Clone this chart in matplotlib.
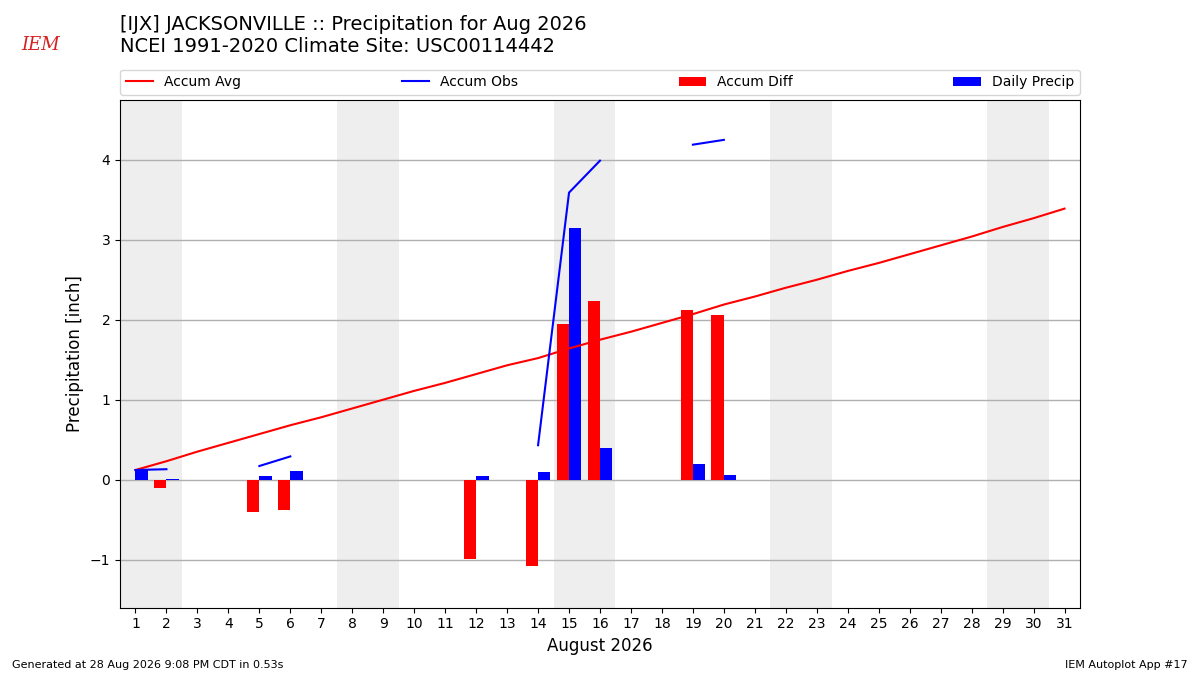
import numpy as np
import matplotlib
matplotlib.use("Agg")
import matplotlib.pyplot as plt

days = list(range(1, 32))
accum_avg = [0.12, 0.23, 0.35, 0.46, 0.57, 0.68, 0.78, 0.89, 1.00, 1.11,
             1.21, 1.32, 1.43, 1.52, 1.64, 1.75, 1.85, 1.96, 2.07, 2.19,
             2.29, 2.40, 2.50, 2.61, 2.71, 2.82, 2.93, 3.04, 3.16, 3.27, 3.39]
nan = float("nan")
accum_obs = [0.12, 0.13, nan, nan, 0.17, 0.29, nan, nan, nan, nan,
             nan, 0.34, nan, 0.43, 3.59, 3.99, nan, nan, 4.19, 4.25,
             nan, nan, nan, nan, nan, nan, nan, nan, nan, nan, nan]
accum_diff = [-0.01, -0.11, nan, nan, -0.40, -0.38, nan, nan, nan, nan,
              nan, -0.99, nan, -1.08, 1.95, 2.24, nan, nan, 2.12, 2.06,
              nan, nan, nan, nan, nan, nan, nan, nan, nan, nan, nan]
daily_precip = [0.12, 0.01, 0, 0, 0.05, 0.11, 0, 0, 0, 0,
                0, 0.05, 0, 0.10, 3.15, 0.40, 0, 0, 0.20, 0.06,
                0, 0, 0, 0, 0, 0, 0, 0, 0, 0, 0]
weekends = [(1, 2), (8, 9), (15, 16), (22, 23), (29, 30)]
yticks = [-1, 0, 1, 2, 3, 4]

title = "[IJX] JACKSONVILLE :: Precipitation for Aug 2026\nNCEI 1991-2020 Climate Site: USC00114442"

fig = plt.figure(figsize=(12, 6.75), dpi=100)
ax = fig.add_axes([0.1, 0.1, 0.8, 0.752])

x = np.array(days, dtype=float)
for a, b in weekends:
    ax.axvspan(a - 0.5, b + 0.5, color="#EEEEEE", zorder=0, lw=0)

ax.bar(x, accum_diff, width=-0.4, align="edge", color="red", zorder=3, label="Accum Diff")
ax.bar(x, daily_precip, width=0.4, align="edge", color="blue", zorder=3, label="Daily Precip")
ax.plot(x, accum_avg, color="red", lw=1.5, zorder=4, label="Accum Avg")
ax.plot(x, accum_obs, color="blue", lw=1.5, zorder=4, label="Accum Obs")

ax.set_xlim(0.5, 31.5)
ax.set_ylim(-1.6, 4.75)
ax.set_xticks(days)
ax.set_yticks(yticks)
ax.grid(axis="y", color="#b0b0b0", lw=1, zorder=1)
ax.set_axisbelow(True)
ax.set_ylabel("Precipitation [inch]", fontsize=12)
ax.set_xlabel("August 2026", fontsize=12)
ax.tick_params(labelsize=10)

handles, labels = ax.get_legend_handles_labels()
order = [labels.index(l) for l in ["Accum Avg", "Accum Obs", "Accum Diff", "Daily Precip"]]
ax.legend([handles[i] for i in order], [labels[i] for i in order],
          bbox_to_anchor=(0.0, 1.01, 1.0, 0.102), loc="lower left", ncol=4,
          mode="expand", borderaxespad=0.0, fontsize=10)

fig.text(0.1, 0.948, title, fontsize=14, ha="left", va="center", linespacing=1.2)
fig.text(0.018, 0.933, "IEM", color="#d62020", fontsize=13, family="DejaVu Serif",
         style="italic", ha="left", va="center")
fig.text(0.01, 0.015, "Generated at 28 Aug 2026 9:08 PM CDT in 0.53s", fontsize=8, ha="left", va="center")
fig.text(0.99, 0.015, "IEM Autoplot App #17", fontsize=8, ha="right", va="center")

fig.savefig("out.png", dpi=100)
